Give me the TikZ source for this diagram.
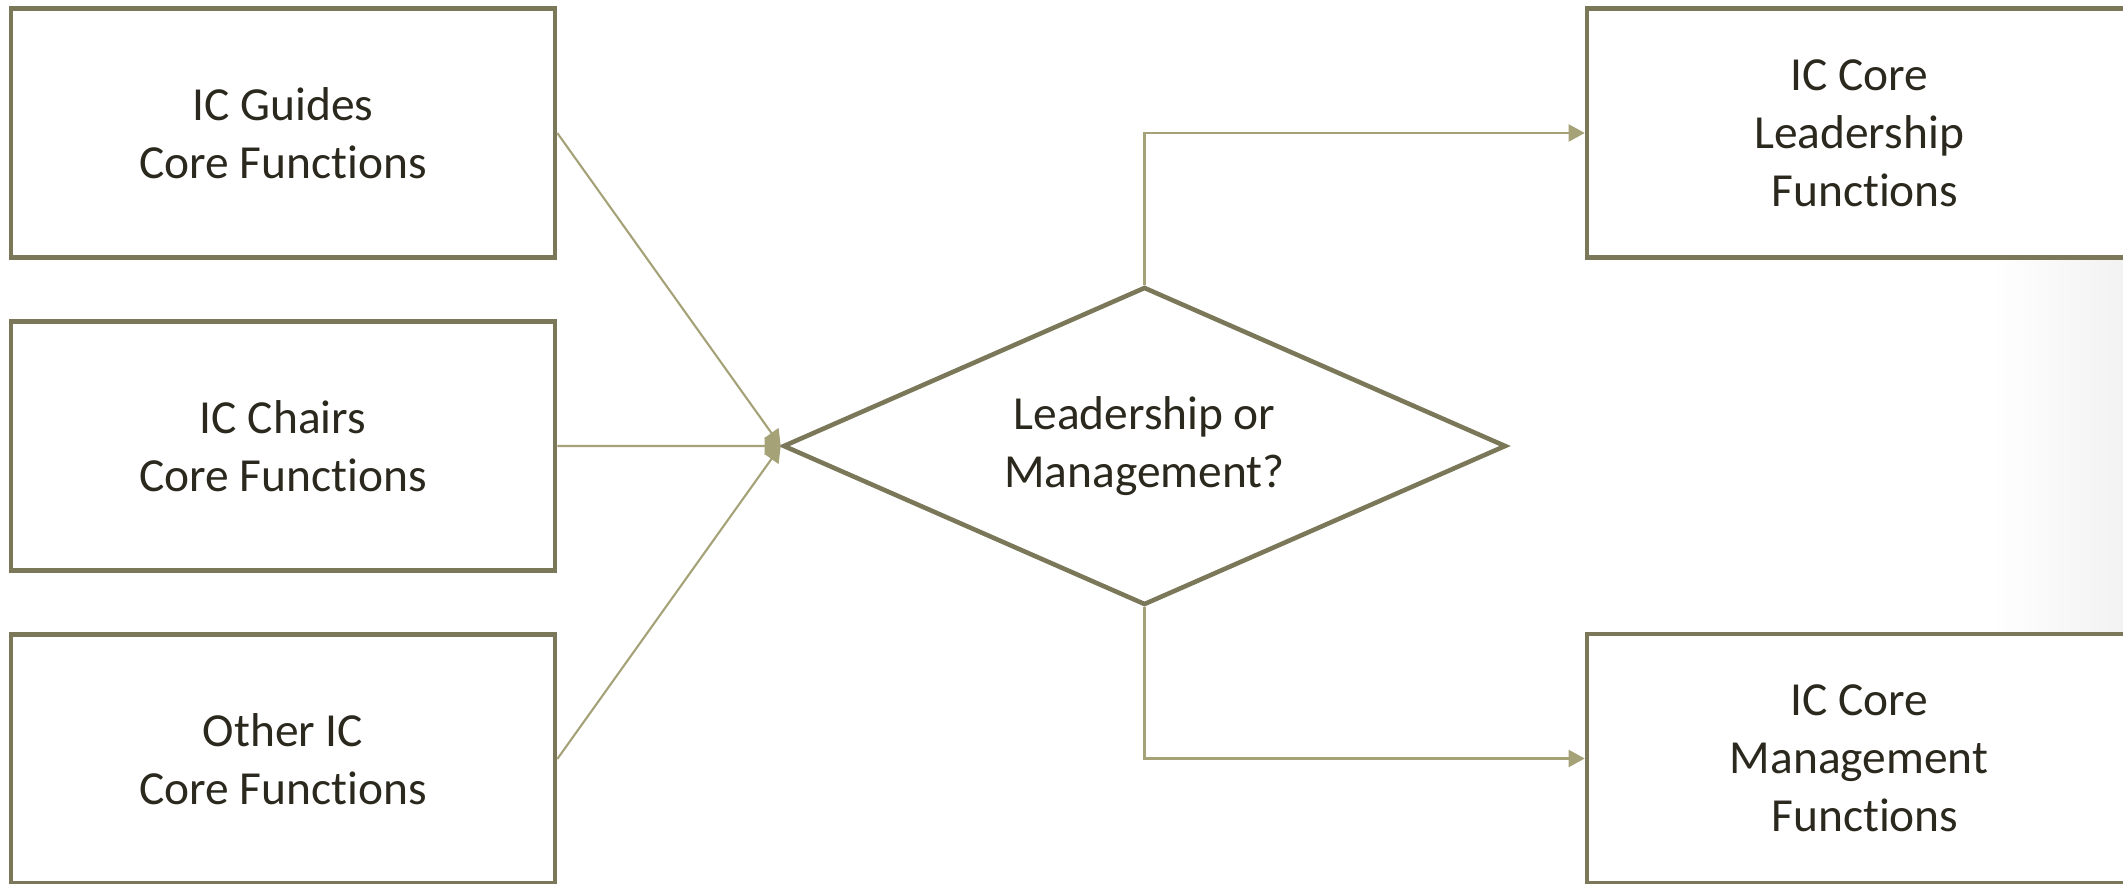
\documentclass[tikz,border=0pt]{standalone}
\usepackage{fontspec}
\setmainfont{Carlito}[Ligatures=NoCommon]
\usetikzlibrary{shapes.geometric,arrows.meta}
\definecolor{box_line}{RGB}{122,120,88}
\definecolor{link_line}{RGB}{165,162,120}
\definecolor{label_text}{RGB}{43,40,30}

\begin{document}
\begin{tikzpicture}[node distance=3.13cm,
  core_box/.style={draw=box_line,fill=white,line width=1.3pt,rectangle,
    minimum width=5.44cm,minimum height=2.49cm,align=center,
    text=label_text,font=\fontsize{13.5}{16.5}\selectfont},
  choice/.style={draw=box_line,fill=white,line width=1.3pt,diamond,inner sep=0pt,
    aspect=2.27,minimum width=7.23cm,minimum height=3.18cm,align=center,
    text=label_text,font=\fontsize{13.5}{16.5}\selectfont},
  link/.style={draw=link_line,line width=0.6pt,
    -{Triangle[length=0.16cm,width=0.17cm]}}]
\path[use as bounding box,clip] (0,0) rectangle (21.23,8.83);
% soft shadow on the right edge
\fill[left color=white,right color=black!5] (19.9,2.3) rectangle (21.23,6.4);

\node[core_box] (guides_box) at (2.83,7.50) {IC Guides\\Core Functions};
\node[core_box,below of = guides_box] (chairs_box) {IC Chairs\\Core Functions};
\node[core_box,below of = chairs_box] (other_box) {Other IC\\Core Functions};

\node[choice] (choice_node) at (11.445,4.37) {Leadership or\\Management?};

\node[core_box] (lead_box) at (18.59,7.50) {IC Core\\Leadership\\\hspace*{0.25em}Functions};
\node[core_box,below of = lead_box,node distance=6.255cm] (mgmt_box) {IC Core\\Management\\\hspace*{0.25em}Functions};

\draw[link] (guides_box.east) -- (choice_node.west);
\draw[link] (chairs_box.east) -- (choice_node.west);
\draw[link] (other_box.east) -- (choice_node.west);
\draw[link] (choice_node.north) |- (lead_box.west);
\draw[link] (choice_node.south) |- (mgmt_box.west);

\end{tikzpicture}
\end{document}
